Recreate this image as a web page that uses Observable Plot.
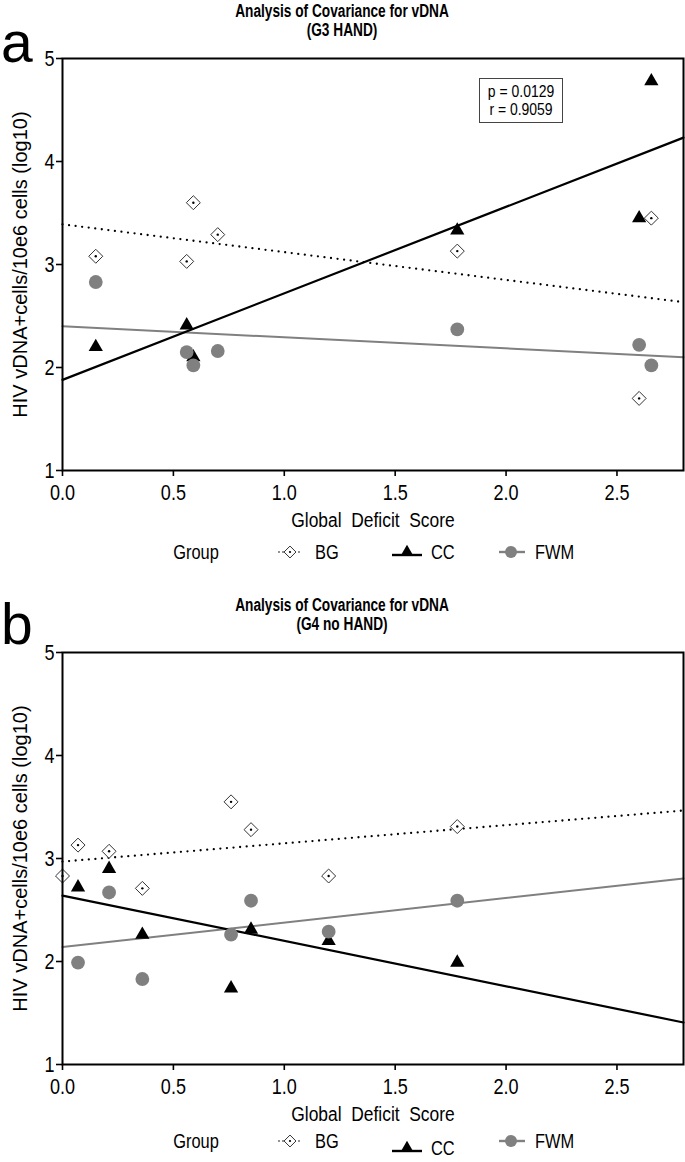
<!DOCTYPE html>
<html><head><meta charset="utf-8">
<script src="https://cdn.jsdelivr.net/npm/d3@7"></script>
<script src="https://cdn.jsdelivr.net/npm/@observablehq/plot@0.6"></script>
<style>
body{margin:0;background:#fff;}
#page{position:relative;width:685px;height:1162px;overflow:hidden;font-family:"Liberation Sans",Arial,sans-serif;color:#000;}
.panel{position:absolute;left:0;width:685px;height:594px;}
.panel svg{position:absolute;left:0;top:0;overflow:visible;}
</style></head>
<body><div id="page"></div>
<script>
// ---------- shared ----------
const groups = ["BG", "CC", "FWM"];
const xTicks = [0, 0.5, 1, 1.5, 2, 2.5];
const yTicks = [1, 2, 3, 4, 5];
const xDomain = [0, 2.8];
const yDomain = [1, 5];
const xLabel = "Global  Deficit  Score";
const yLabel = "HIV vDNA+cells/10e6 cells (log10)";
const legendTitle = "Group";

// ---------- panel a (G3 HAND) ----------
const aTitle = ["Analysis of  Covariance for vDNA", "(G3 HAND)"];
const a_BG_x  = [0.15, 0.56, 0.59, 0.70, 1.78, 2.60, 2.655];
const a_BG_y  = [3.08, 3.03, 3.60, 3.29, 3.13, 1.70, 3.45];
const a_CC_x  = [0.15, 0.56, 0.59, 1.78, 2.60, 2.655];
const a_CC_y  = [2.20, 2.41, 2.10, 3.33, 3.45, 4.78];
const a_FWM_x = [0.15, 0.56, 0.59, 0.70, 1.78, 2.60, 2.655];
const a_FWM_y = [2.83, 2.15, 2.02, 2.16, 2.37, 2.22, 2.02];
const a_fitIntercept = [3.39, 1.88, 2.40];   // BG, CC, FWM
const a_fitSlope     = [-0.27, 0.84, -0.107];
const a_stats = ["p = 0.0129", "r = 0.9059"];

// ---------- panel b (G4 no HAND) ----------
const bTitle = ["Analysis of  Covariance for vDNA", "(G4 no HAND)"];
const b_BG_x  = [0.0, 0.07, 0.21, 0.36, 0.76, 0.85, 1.20, 1.78];
const b_BG_y  = [2.83, 3.13, 3.07, 2.71, 3.55, 3.28, 2.83, 3.31];
const b_CC_x  = [0.07, 0.21, 0.36, 0.76, 0.85, 1.20, 1.78];
const b_CC_y  = [2.72, 2.90, 2.26, 1.74, 2.31, 2.20, 1.99];
const b_FWM_x = [0.07, 0.21, 0.36, 0.76, 0.85, 1.20, 1.78];
const b_FWM_y = [1.99, 2.67, 1.83, 2.26, 2.59, 2.29, 2.59];
const b_fitIntercept = [2.97, 2.64, 2.14];
const b_fitSlope     = [0.177, -0.44, 0.238];

const FONT = '"Liberation Sans",Arial,sans-serif';
const page = document.getElementById("page");

// squeeze text horizontally (the reference uses a narrow face)
function condense(sel, f) {
  sel.each(function () {
    const L = this.getComputedTextLength();
    if (L > 0) {
      this.setAttribute("textLength", (L * f).toFixed(2));
      this.setAttribute("lengthAdjust", "spacingAndGlyphs");
    }
  });
}

function makePanel(top, letter, title, pts, icpt, slope, stats, legendY, ccLegendDy) {
  const panel = document.createElement("div");
  panel.className = "panel";
  panel.style.top = top + "px";
  page.appendChild(panel);

  const rows = [];
  groups.forEach(g => pts[g][0].forEach((x, i) => rows.push({group: g, x, y: pts[g][1][i]})));
  const fits = groups.flatMap((g, i) => xDomain.map(x => ({group: g, x, y: icpt[i] + slope[i] * x})));
  const sel = g => d => d.group === g;

  const chart = Plot.plot({
    width: 685, height: 530,
    marginTop: 58, marginBottom: 60, marginLeft: 62, marginRight: 2,
    style: {fontFamily: FONT, fontSize: "22px", color: "#000", background: "transparent", overflow: "visible"},
    x: {domain: xDomain, ticks: xTicks, tickFormat: d => d.toFixed(1), tickSize: 6, tickPadding: 8,
        label: xLabel, labelAnchor: "center", labelOffset: 56, labelArrow: "none"},
    y: {domain: yDomain, ticks: yTicks, tickFormat: d => String(d), tickSize: 6, tickPadding: 2,
        label: yLabel, labelAnchor: "center", labelOffset: 50, labelArrow: "none"},
    marks: [
      Plot.line(fits.filter(sel("BG")), {x: "x", y: "y", stroke: "#000", strokeWidth: 2.3, strokeDasharray: "0 6.6", strokeLinecap: "round"}),
      Plot.line(fits.filter(sel("FWM")), {x: "x", y: "y", stroke: "#808080", strokeWidth: 2}),
      Plot.line(fits.filter(sel("CC")), {x: "x", y: "y", stroke: "#000", strokeWidth: 2.2}),
      Plot.dot(rows.filter(sel("BG")), {x: "x", y: "y", symbol: "diamond2", r: 6.3, fill: "#fff", stroke: "#333", strokeWidth: 1}),
      Plot.dot(rows.filter(sel("BG")), {x: "x", y: "y", r: 1.2, fill: "#000"}),
      Plot.dot(rows.filter(sel("CC")), {x: "x", y: "y", symbol: "triangle2", r: 6.8, fill: "#000"}),
      Plot.dot(rows.filter(sel("FWM")), {x: "x", y: "y", r: 6.9, fill: "#808080"}),
      Plot.frame({stroke: "#000", strokeWidth: 2})
    ]
  });
  panel.appendChild(chart);
  const svg = d3.select(chart);
  svg.selectAll('g[aria-label="x-axis tick label"] text, g[aria-label="y-axis tick label"] text')
    .attr("font-size", 22).style("font-size", "22px");
  svg.selectAll('g[aria-label="x-axis label"] text, g[aria-label="y-axis label"] text')
    .attr("font-size", 20).style("font-size", "20px");
  svg.selectAll('g[aria-label="x-axis tick"] path, g[aria-label="y-axis tick"] path').attr("stroke-width", 1.6);
  condense(svg.selectAll('g[aria-label="x-axis tick label"] text, g[aria-label="y-axis tick label"] text'), 0.82);
  condense(svg.selectAll('g[aria-label="x-axis label"] text'), 0.87);

  // overlay: title, letter, stats box, legend
  const ov = d3.select(panel).append("svg").attr("width", 685).attr("height", 568)
    .style("font-family", FONT).style("pointer-events", "none").style("overflow", "visible");
  const tt = ov.append("g").attr("font-weight", "bold").attr("font-size", 18).attr("text-anchor", "middle");
  title.forEach((line, i) => tt.append("text").attr("x", 342).attr("y", 17 + i * 18.5).text(line));
  condense(tt.selectAll("text"), 0.76);

  ov.append("text").attr("x", 1).attr("y", letter === "a" ? 62 : 50)
    .attr("font-size", 57).text(letter);

  if (stats) {
    ov.append("rect").attr("x", 479.5).attr("y", 78.5).attr("width", 83).attr("height", 44)
      .attr("fill", "#fff").attr("stroke", "#444").attr("stroke-width", 1);
    const st = ov.append("g").attr("font-size", 17).attr("text-anchor", "middle");
    stats.forEach((line, i) => st.append("text").attr("x", 521).attr("y", 97 + i * 18).text(line));
    condense(st.selectAll("text"), 0.82);
  }

  const cy = legendY;
  const lg = ov.append("g").attr("font-size", 20);
  lg.append("text").attr("x", 196).attr("y", cy + 7).attr("text-anchor", "middle").text(legendTitle);
  // BG
  lg.append("line").attr("x1", 279).attr("x2", 302).attr("y1", cy).attr("y2", cy)
    .attr("stroke", "#000").attr("stroke-width", 1.6).attr("stroke-dasharray", "0 4").attr("stroke-linecap", "round");
  lg.append("path").attr("d", d3.symbol(d3.symbolDiamond2, 90)()).attr("transform", `translate(290,${cy})`)
    .attr("fill", "#fff").attr("stroke", "#333").attr("stroke-width", 1);
  lg.append("circle").attr("cx", 290).attr("cy", cy).attr("r", 1.1).attr("fill", "#000");
  lg.append("text").attr("x", 315).attr("y", cy + 7).text(groups[0]);
  // CC
  const ccy = cy + ccLegendDy;
  lg.append("line").attr("x1", 392).attr("x2", 422).attr("y1", ccy + 3).attr("y2", ccy + 3)
    .attr("stroke", "#000").attr("stroke-width", 2.4);
  lg.append("path").attr("d", d3.symbol(d3.symbolTriangle2, 115)()).attr("transform", `translate(407,${ccy})`).attr("fill", "#000");
  lg.append("text").attr("x", 431).attr("y", ccy + 7).text(groups[1]);
  // FWM
  lg.append("line").attr("x1", 499).attr("x2", 525).attr("y1", cy).attr("y2", cy)
    .attr("stroke", "#808080").attr("stroke-width", 2.4);
  lg.append("circle").attr("cx", 511).attr("cy", cy).attr("r", 6).attr("fill", "#808080");
  lg.append("text").attr("x", 535).attr("y", cy + 7).text(groups[2]);
  condense(lg.selectAll("text"), 0.82);
}

makePanel(0, "a", aTitle,
  {BG: [a_BG_x, a_BG_y], CC: [a_CC_x, a_CC_y], FWM: [a_FWM_x, a_FWM_y]},
  a_fitIntercept, a_fitSlope, a_stats, 552, 0);
makePanel(594, "b", bTitle,
  {BG: [b_BG_x, b_BG_y], CC: [b_CC_x, b_CC_y], FWM: [b_FWM_x, b_FWM_y]},
  b_fitIntercept, b_fitSlope, null, 547, 7);
</script></body></html>
